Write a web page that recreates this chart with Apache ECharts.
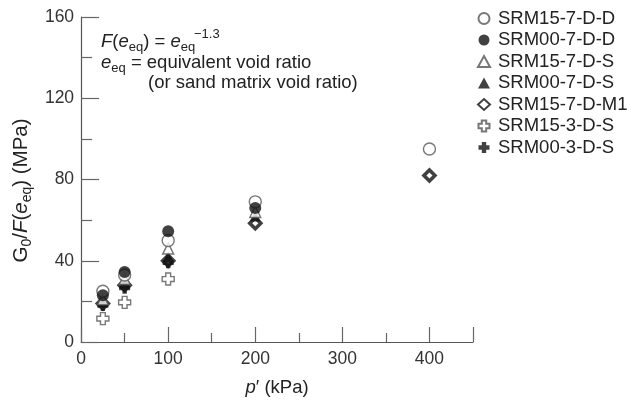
<!DOCTYPE html>
<html>
<head>
<meta charset="utf-8">
<script src="https://cdn.jsdelivr.net/npm/echarts@6/dist/echarts.min.js"></script>
<style>
  html, body { margin: 0; padding: 0; background: #fff; }
  #chart { width: 627px; height: 405px; }
</style>
</head>
<body>
<div id="chart"></div>
<script>
// effective confining pressure p' (kPa)
const pressures = [25, 50, 100, 200, 400];

// G0/F(eeq) in MPa, one array per specimen
const srm15_7_D_D = [25, 33, 50, 69, 95];
const srm00_7_D_D = [23, 34.5, 54.5, 66];
const srm15_7_D_S = [21, 31, 46, 64];
const srm00_7_D_S = [20, 29, 42, 62];
const srm15_7_D_M1 = [19, 28, 40, 58.5, 82];
const srm15_3_D_S = [11.5, 19.5, 31];
const srm00_3_D_S = [18, 26.5, 39];

const xTicks = [0, 100, 200, 300, 400];
const yTicks = [0, 40, 80, 120, 160];

const font = 'Liberation Sans, Arial, sans-serif';
const plusPath = 'path://M3,0H7V3H10V7H7V10H3V7H0V3H3Z';

const toPoints = vals => vals.map((v, i) => [pressures[i], v]);

const openStyle = { color: '#fff', borderColor: '#555', borderWidth: 1.4 };
const solidStyle = { color: '#111', borderColor: '#111', borderWidth: 0 };

const specs = [
  { name: 'SRM15-7-D-M1', data: srm15_7_D_M1, symbol: 'diamond', size: 11, style: { color: '#fff', borderColor: '#111', borderWidth: 3.6 } },
  { name: 'SRM15-3-D-S', data: srm15_3_D_S, symbol: plusPath, size: 12, style: openStyle },
  { name: 'SRM00-3-D-S', data: srm00_3_D_S, symbol: plusPath, size: 11, style: solidStyle },
  { name: 'SRM00-7-D-S', data: srm00_7_D_S, symbol: 'triangle', size: 11, style: solidStyle },
  { name: 'SRM15-7-D-S', data: srm15_7_D_S, symbol: 'triangle', size: 11, style: openStyle },
  { name: 'SRM15-7-D-D', data: srm15_7_D_D, symbol: 'circle', size: 12, style: openStyle },
  { name: 'SRM00-7-D-D', data: srm00_7_D_D, symbol: 'circle', size: 12, style: solidStyle }
];

const legendOrder = ['SRM15-7-D-D', 'SRM00-7-D-D', 'SRM15-7-D-S', 'SRM00-7-D-S',
  'SRM15-7-D-M1', 'SRM15-3-D-S', 'SRM00-3-D-S'];

const rich = {
  i: { fontStyle: 'italic', fontSize: 18.5, fontFamily: font, color: '#222', lineHeight: 24 },
  sub: { fontSize: 13, fontFamily: font, color: '#222', lineHeight: 14, verticalAlign: 'bottom' }
};

const richY = {
  i: { fontStyle: 'italic', fontSize: 20.5, fontFamily: font, color: '#222', lineHeight: 26 },
  sub: { fontSize: 14, fontFamily: font, color: '#222', lineHeight: 15, verticalAlign: 'bottom' }
};

const chart = echarts.init(document.getElementById('chart'), null, { renderer: 'canvas' });

chart.setOption({
  animation: false,
  backgroundColor: '#fff',
  textStyle: { fontFamily: font },
  grid: { left: 80, right: 154, top: 17, bottom: 60 },
  legend: {
    data: legendOrder,
    orient: 'vertical',
    left: 472,
    top: 4,
    itemWidth: 12,
    itemHeight: 11,
    itemGap: 2.5,
    textStyle: { fontSize: 18.5, color: '#222', fontFamily: font, padding: [0, 0, 0, 3], lineHeight: 19 }
  },
  xAxis: {
    type: 'value',
    min: 0,
    max: 450,
    interval: 100,
    name: '{i|p}′ (kPa)',
    nameLocation: 'middle',
    nameGap: 34,
    nameTextStyle: { fontSize: 18.5, color: '#222', lineHeight: 24, rich: rich },
    axisLine: { lineStyle: { color: '#555', width: 1.2 } },
    axisTick: { inside: true, length: 15, lineStyle: { color: '#666', width: 1.2 } },
    minorTick: { show: true, splitNumber: 2, length: 9, lineStyle: { color: '#666', width: 1.2 } },
    axisLabel: {
      fontSize: 17.5, color: '#333', margin: 8,
      formatter: v => (xTicks.includes(v) ? String(v) : '')
    },
    splitLine: { show: false }
  },
  yAxis: {
    type: 'value',
    min: 0,
    max: 160,
    interval: 40,
    name: 'G{sub|0}/{i|F}({i|e}{sub|eq}) (MPa)',
    nameLocation: 'middle',
    nameRotate: 90,
    nameGap: 44,
    nameTextStyle: { fontSize: 20.5, color: '#222', lineHeight: 26, padding: [0, 22, 0, 0], rich: richY },
    axisLine: { show: true, lineStyle: { color: '#555', width: 1.2 } },
    axisTick: { inside: true, length: 18, lineStyle: { color: '#666', width: 1.2 } },
    minorTick: { show: true, splitNumber: 2, length: 11, lineStyle: { color: '#666', width: 1.2 } },
    axisLabel: {
      fontSize: 17.5, color: '#333', margin: 7,
      formatter: v => (yTicks.includes(v) ? String(v) : '')
    },
    splitLine: { show: false }
  },
  series: specs.map(s => ({
    name: s.name,
    type: 'scatter',
    data: toPoints(s.data),
    symbol: s.symbol,
    symbolSize: s.size,
    itemStyle: s.style,
    emphasis: { disabled: true }
  })),
  graphic: [
    {
      type: 'text',
      left: 101,
      top: 30,
      style: {
        text: '{i|F}({i|e}{sub|eq}) = {i|e}{sub|eq}',
        fontSize: 18.5, fill: '#222', fontFamily: font, lineHeight: 24,
        rich: rich
      }
    },
    {
      type: 'text',
      left: 194,
      top: 28,
      style: { text: '−1.3', fontSize: 13, fill: '#222', fontFamily: font }
    },
    {
      type: 'text',
      left: 101,
      top: 51,
      style: {
        text: '{i|e}{sub|eq} = equivalent void ratio',
        fontSize: 18.5, fill: '#222', fontFamily: font, lineHeight: 24,
        rich: rich
      }
    },
    {
      type: 'text',
      left: 148,
      top: 73,
      style: { text: '(or sand matrix void ratio)', fontSize: 18.5, fill: '#222', fontFamily: font }
    }
  ]
});
</script>
</body>
</html>
